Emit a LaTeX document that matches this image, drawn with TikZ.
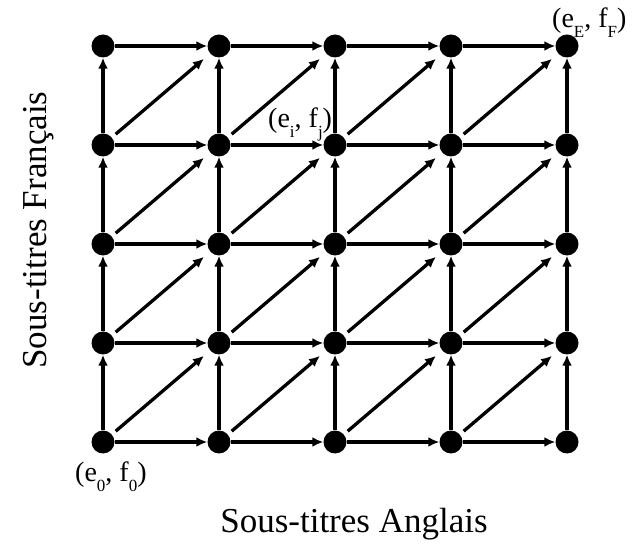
\documentclass[tikz,border=0pt]{standalone}
\usepackage{fontspec}
\setmainfont{Liberation Serif}
\usetikzlibrary{positioning, arrows.meta}

\newcommand{\sub}[1]{\raisebox{-10pt}{\fontsize{17}{17}\selectfont #1}}

\begin{document}
\begin{tikzpicture}[
x=1pt, y=-1pt,
dot/.style={
circle,
fill=black,
draw=none,
minimum size=23pt,
inner sep=0pt
},
move/.style={
draw=black,
line width=3.3pt,
-{Latex[length=11pt,width=10pt]}
},
dmove/.style={
move,
shorten <=5pt,
shorten >=8pt
},
lbl/.style={
anchor=base west,
inner sep=0pt,
font=\fontsize{28}{30}\selectfont
},
axis/.style={
anchor=base,
inner sep=0pt,
font=\fontsize{35}{38}\selectfont
}
]
\useasboundingbox (0,0) rectangle (635,545);

% grid of states
\foreach \i in {0,...,4}
  \foreach \j in {0,...,4}
    \node[dot] (n\i\j) at ({103+116*\i},{442-99*\j}) {};

% moves
\foreach \i/\k in {0/1,1/2,2/3,3/4}
  \foreach \j in {0,...,4}
  {
    \path[move] (n\i\j) -- (n\k\j);
    \path[move] (n\j\i) -- (n\j\k);
  }
\foreach \i/\k in {0/1,1/2,2/3,3/4}
  \foreach \j/\l in {0/1,1/2,2/3,3/4}
    \path[dmove] (n\i\j) -- (n\k\l);

% labels
\node[lbl] (start) at (75,481) {(e\sub{0}, f\sub{0})};
\node[lbl] (mid) at (268,128) {(e\sub{i}, f\sub{j})};
\node[lbl] (end) at (552,28) {(e\sub{E}, f\sub{F})};

\node[axis] (xlab) at (354,532) {Sous-titres Anglais};
\node[axis, rotate=90] (ylab) at (46,230) {Sous-titres Français};

\end{tikzpicture}
\end{document}
